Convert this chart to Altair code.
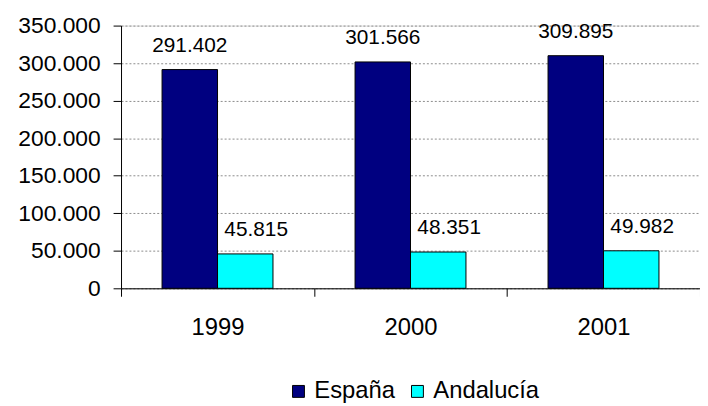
import altair as alt
import pandas as pd

years = ["1999", "2000", "2001"]
series = ["España", "Andalucía"]
espana = [291402, 301566, 309895]
andalucia = [45815, 48351, 49982]
y_ticks = [0, 50000, 100000, 150000, 200000, 250000, 300000, 350000]
colors = ["#000080", "#00FFFF"]

rows = []
for i, y in enumerate(years):
    rows.append({"year": y, "serie": series[0], "value": espana[i]})
    rows.append({"year": y, "serie": series[1], "value": andalucia[i]})
df = pd.DataFrame(rows)

FONT = "Liberation Sans"
fmt_expr = "replace(format(datum.value, ','), regexp(',', 'g'), '.')"

x_axis = alt.Axis(title=None, labelAngle=0, tickBand="extent", tickSize=8,
                  tickColor="black", domainColor="black", labelFontSize=24,
                  labelPadding=20, labelColor="black", labelFont=FONT, grid=False)
y_axis = alt.Axis(title=None, values=y_ticks, labelExpr=fmt_expr,
                  tickSize=8, tickColor="black", domainColor="black",
                  labelFontSize=23, labelPadding=13, labelColor="black",
                  labelFont=FONT, labelOverlap=False, labelBound=False,
                  grid=True, gridColor="#8c8c8c", gridDash=[2, 2], gridWidth=1)

x_enc = alt.X("year:N", sort=years, scale=alt.Scale(paddingInner=0, paddingOuter=0),
              axis=x_axis)
xoff = alt.XOffset("serie:N", sort=series, scale=alt.Scale(paddingInner=0, paddingOuter=0.74))
y_enc = alt.Y("value:Q", scale=alt.Scale(domain=[0, 350000], nice=False), axis=y_axis)

base = alt.Chart(df)

bars = base.mark_bar(stroke="black", strokeWidth=1).encode(
    x=x_enc,
    xOffset=xoff,
    y=y_enc,
    color=alt.Color("serie:N", sort=series,
                    scale=alt.Scale(domain=series, range=colors),
                    legend=alt.Legend(title=None, orient="none", direction="horizontal",
                                      legendX=167, legendY=357, symbolType="square",
                                      symbolSize=144, symbolStrokeColor="black",
                                      symbolStrokeWidth=1, labelFontSize=24,
                                      labelFont=FONT, labelColor="black",
                                      labelOffset=4, columnPadding=10, padding=0)),
)

lab = base.transform_calculate(lbl=fmt_expr)

text_es = lab.transform_filter(alt.datum.serie == series[0]).mark_text(
    fontSize=21, font=FONT, color="black", baseline="alphabetic", dy=-18
).encode(x=x_enc, xOffset=xoff, y=y_enc, text="lbl:N")

text_an = lab.transform_filter(alt.datum.serie == series[1]).mark_text(
    fontSize=21, font=FONT, color="black", baseline="alphabetic", dy=-18, dx=11
).encode(x=x_enc, xOffset=xoff, y=y_enc, text="lbl:N")

chart = alt.layer(bars, text_es, text_an).properties(
    width=584, height=265,
    autosize=alt.AutoSizeParams(type="none"),
    padding={"left": 114, "top": 16, "right": 0, "bottom": 120},
).configure_view(stroke=None).configure(background="white")

chart.save("out.html", embed_options={"renderer": "svg", "actions": False})
